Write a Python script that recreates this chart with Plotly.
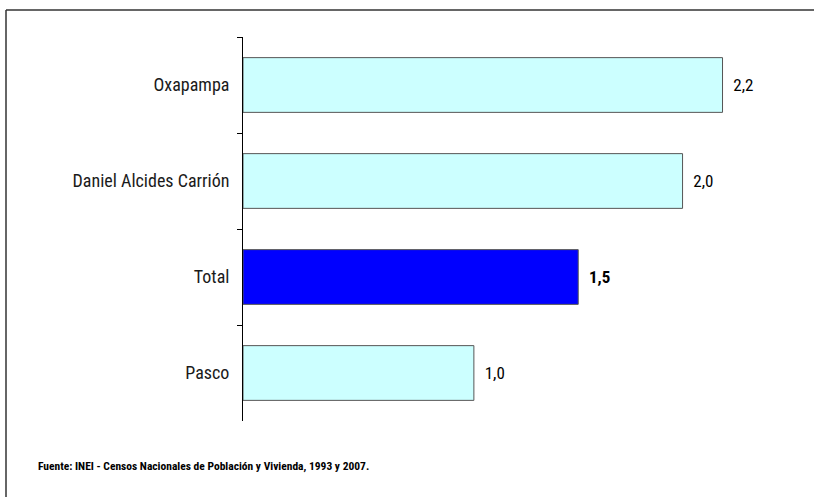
import plotly.graph_objects as go

# data, top to bottom as in the chart (bar lengths,
# labels shown rounded to one decimal as in the original)
provincias = ["Oxapampa", "Daniel Alcides Carrión", "Total", "Pasco"]
tasas = [2.16, 1.98, 1.51, 1.04]
fuente = "Fuente: INEI - Censos Nacionales de Población y Vivienda, 1993 y 2007."

W, H = 814, 497
ml, mr, mt, mb = 243, 24, 37, 76
pw, ph = W - ml - mr, H - mt - mb

font_fam = "Roboto Condensed, Arial Narrow, Liberation Sans Narrow, sans-serif"

colors = ["#0000FF" if p == "Total" else "#CCFFFF" for p in provincias]
labels = []
for p, v in zip(provincias, tasas):
    s = ("%.1f" % v).replace(".", ",")
    labels.append("  <b>" + s + "</b>" if p == "Total" else "  " + s)

fig = go.Figure()
fig.add_trace(
    go.Bar(
        x=tasas,
        y=provincias,
        orientation="h",
        marker=dict(color=colors, line=dict(color="#555555", width=1)),
        text=labels,
        textposition="outside",
        textfont=dict(family=font_fam, size=17, color="#000000"),
        cliponaxis=False,
        hoverinfo="skip",
    )
)

# frame, positions converted from pixels to paper units
def px_x(x):
    return (x - ml) / pw

def px_y(y):
    return (H - y - mb) / ph

fig.add_shape(type="line", xref="paper", yref="paper",
              x0=px_x(6), x1=px_x(830), y0=px_y(10), y1=px_y(10),
              line=dict(color="#333333", width=1.5))
fig.add_shape(type="line", xref="paper", yref="paper",
              x0=px_x(6), x1=px_x(6), y0=px_y(10), y1=px_y(510),
              line=dict(color="#333333", width=1.5))

fig.add_annotation(
    text="<b>" + fuente + "</b>",
    xref="paper", yref="paper",
    x=px_x(36), y=px_y(466),
    xanchor="left", yanchor="middle",
    showarrow=False,
    font=dict(family=font_fam, size=11.5, color="#000000"),
)

fig.update_layout(
    width=W, height=H,
    margin=dict(l=ml, r=mr, t=mt, b=mb, autoexpand=False),
    paper_bgcolor="#FFFFFF",
    plot_bgcolor="#FFFFFF",
    bargap=0.43,
    showlegend=False,
    font=dict(family=font_fam, size=18, color="#000000"),
    xaxis=dict(visible=False, range=[0, 547 / 222], fixedrange=True),
    yaxis=dict(
        autorange="reversed",
        showline=True, linecolor="#000000", linewidth=1,
        ticks="outside", tickson="boundaries", ticklen=5, tickcolor="#000000",
        ticklabelstandoff=9,
        showgrid=False, fixedrange=True,
        tickfont=dict(family=font_fam, size=18, color="#1a1a1a"),
    ),
)

fig.write_html("out.html", config={"displayModeBar": False},
               post_script="document.body.style.margin='0';")
